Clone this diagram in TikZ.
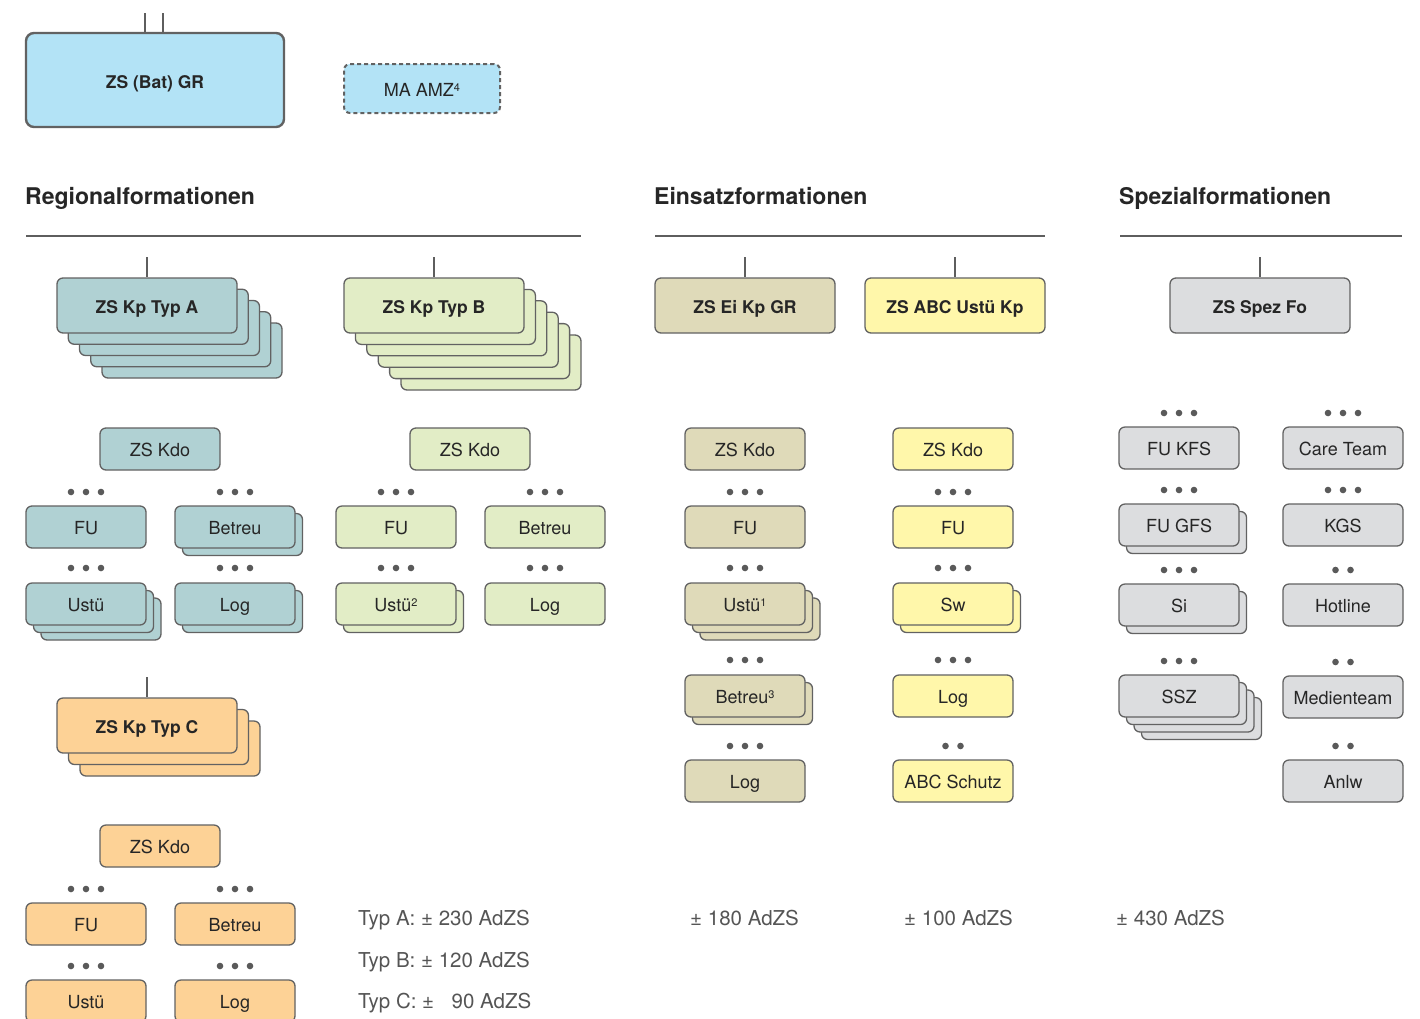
\documentclass[tikz,border=0pt]{standalone}
\usepackage{fontspec}
\setmainfont{TeX Gyre Heros}
\definecolor{bordc}{HTML}{626262}
\definecolor{txtc}{HTML}{262626}
\definecolor{dotc}{HTML}{5A5A5A}
\definecolor{linec}{HTML}{5E5E5E}
\definecolor{sumc}{HTML}{555555}
\definecolor{cTop}{HTML}{B3E3F6}
\definecolor{cA}{HTML}{B0D1D3}
\definecolor{cB}{HTML}{E2EDC6}
\definecolor{cC}{HTML}{FDD296}
\definecolor{cEi}{HTML}{DFDAB9}
\definecolor{cX}{HTML}{FFF7AA}
\definecolor{cS}{HTML}{DCDDDF}
\newcommand\bx[7]{\node[#6, minimum width=#4pt, minimum height=#5pt] (#1) at ({#2+#4/2},{#3+#5/2}) {#7};}
\newcommand\stk[9]{%
  \foreach \i in {#6,...,1}{\node[#8, minimum width=#4pt, minimum height=#5pt] (#1-\i) at ({#2+\i*#7+#4/2},{#3+\i*#7+#5/2}) {};}
  \bx{#1}{#2}{#3}{#4}{#5}{#8}{#9}}
\newcommand\dts[3]{\foreach \k in {1,...,#3}{\fill[dotc] ({#1+(\k-(#3+1)/2)*15},#2) circle (3.3pt);}}
\newcommand\sups[1]{\raisebox{5pt}{\fontsize{11}{12}\selectfont #1}}
\begin{document}
\begin{tikzpicture}[x=1pt,y=-1pt,
  bxbase/.style={draw=bordc, line width=1.3pt, rounded corners=6pt, inner sep=0pt, text=txtc, font=\fontsize{18}{21}\selectfont, text height=15pt, text depth=0pt},
  big/.style={bxbase, font=\bfseries\fontsize{17.5}{20}\selectfont, text height=16.5pt},
  smA/.style={bxbase, fill=cA}, smB/.style={bxbase, fill=cB}, smC/.style={bxbase, fill=cC},
  smEi/.style={bxbase, fill=cEi}, smX/.style={bxbase, fill=cX}, smS/.style={bxbase, fill=cS},
  bigA/.style={big, fill=cA}, bigB/.style={big, fill=cB}, bigC/.style={big, fill=cC},
  bigEi/.style={big, fill=cEi}, bigX/.style={big, fill=cX}, bigS/.style={big, fill=cS},
  topbox/.style={big, fill=cTop, line width=2.4pt, rounded corners=8pt},
  amzbox/.style={bxbase, fill=cTop, line width=2pt, dash pattern=on 4pt off 3pt},
  head/.style={font=\bfseries\fontsize{23}{27}\selectfont, text=txtc, inner sep=0pt},
  conn/.style={draw=linec, line width=1.5pt},
  rule/.style={draw=linec, line width=2.4pt},
  sumt/.style={font=\fontsize{20.5}{24}\selectfont, text=sumc, inner sep=0pt, anchor=base west}
]
\useasboundingbox[fill=white] (0,0) rectangle (1420,1018);

% top
\bx{bat}{26}{33}{258}{94}{topbox}{ZS (Bat) GR}
\coordinate (bt1) at (145,13);
\coordinate (bt2) at (163,13);
\draw[conn] (bt1) -- (bt1 |- bat.north);
\draw[conn] (bt2) -- (bt2 |- bat.north);
\bx{amz}{344}{64}{156}{49}{amzbox}{MA AMZ\sups{4}}

% headings
\node[head, anchor=base west] (h1) at (25,204) {Regionalformationen};
\node[head, anchor=base west] (h2) at (654,204) {Einsatzformationen};
\node[head, anchor=base west] (h3) at (1119,204) {Spezialformationen};
\coordinate (r1a) at (26,236); \coordinate (r1b) at (581,236);
\coordinate (r2a) at (655,236); \coordinate (r2b) at (1045,236);
\coordinate (r3a) at (1120,236); \coordinate (r3b) at (1402,236);
\draw[rule] (r1a) -- (r1b);
\draw[rule] (r2a) -- (r2b);
\draw[rule] (r3a) -- (r3b);

% big boxes
\stk{ka}{57}{278}{180}{55}{4}{11.25}{bigA}{ZS Kp Typ A}
\stk{kb}{344}{278}{180}{55}{5}{11.4}{bigB}{ZS Kp Typ B}
\stk{kc}{57}{698}{180}{55}{2}{11.5}{bigC}{ZS Kp Typ C}
\bx{ei}{655}{278}{180}{55}{bigEi}{ZS Ei Kp GR}
\bx{abc}{865}{278}{180}{55}{bigX}{ZS ABC Ustü Kp}
\bx{spez}{1170}{278}{180}{55}{bigS}{ZS Spez Fo}
\coordinate (ca) at (147,257); \draw[conn] (ca) -- (ka.north);
\coordinate (cb) at (434,257); \draw[conn] (cb) -- (kb.north);
\coordinate (cc) at (147,677); \draw[conn] (cc) -- (kc.north);
\coordinate (ce) at (745,257); \draw[conn] (ce) -- (ei.north);
\coordinate (cx) at (955,257); \draw[conn] (cx) -- (abc.north);
\coordinate (cs) at (1260,257); \draw[conn] (cs) -- (spez.north);

% Typ A
\bx{akdo}{100}{428}{120}{42}{smA}{ZS Kdo}
\dts{86}{492}{3} \dts{235}{492}{3}
\bx{afu}{26}{506}{120}{42}{smA}{FU}
\stk{abet}{175}{506}{120}{42}{1}{7.5}{smA}{Betreu}
\dts{86}{568}{3} \dts{235}{568}{3}
\stk{aus}{26}{583}{120}{42}{2}{7.5}{smA}{Ustü}
\stk{alog}{175}{583}{120}{42}{1}{7.5}{smA}{Log}

% Typ B
\bx{bkdo}{410}{428}{120}{42}{smB}{ZS Kdo}
\dts{396}{492}{3} \dts{545}{492}{3}
\bx{bfu}{336}{506}{120}{42}{smB}{FU}
\bx{bbet}{485}{506}{120}{42}{smB}{Betreu}
\dts{396}{568}{3} \dts{545}{568}{3}
\stk{bus}{336}{583}{120}{42}{1}{7.5}{smB}{Ustü\sups{2}}
\bx{blog}{485}{583}{120}{42}{smB}{Log}

% Typ C
\bx{ckdo}{100}{825}{120}{42}{smC}{ZS Kdo}
\dts{86}{889}{3} \dts{235}{889}{3}
\bx{cfu}{26}{903}{120}{42}{smC}{FU}
\bx{cbet}{175}{903}{120}{42}{smC}{Betreu}
\dts{86}{966}{3} \dts{235}{966}{3}
\bx{cus}{26}{980}{120}{42}{smC}{Ustü}
\bx{clog}{175}{980}{120}{42}{smC}{Log}

% Ei
\bx{ekdo}{685}{428}{120}{42}{smEi}{ZS Kdo}
\dts{745}{492}{3}
\bx{efu}{685}{506}{120}{42}{smEi}{FU}
\dts{745}{568}{3}
\stk{eus}{685}{583}{120}{42}{2}{7.5}{smEi}{Ustü\sups{1}}
\dts{745}{660}{3}
\stk{ebet}{685}{675}{120}{42}{1}{7.5}{smEi}{Betreu\sups{3}}
\dts{745}{746}{3}
\bx{elog}{685}{760}{120}{42}{smEi}{Log}

% ABC
\bx{xkdo}{893}{428}{120}{42}{smX}{ZS Kdo}
\dts{953}{492}{3}
\bx{xfu}{893}{506}{120}{42}{smX}{FU}
\dts{953}{568}{3}
\stk{xsw}{893}{583}{120}{42}{1}{7.5}{smX}{Sw}
\dts{953}{660}{3}
\bx{xlog}{893}{675}{120}{42}{smX}{Log}
\dts{953}{746}{2}
\bx{xabc}{893}{760}{120}{42}{smX}{ABC Schutz}

% Spez
\dts{1179}{413}{3} \dts{1343}{413}{3}
\bx{sfk}{1119}{427}{120}{42}{smS}{FU KFS}
\bx{sct}{1283}{427}{120}{42}{smS}{Care Team}
\dts{1179}{490}{3} \dts{1343}{490}{3}
\stk{sfg}{1119}{504}{120}{42}{1}{7.5}{smS}{FU GFS}
\bx{skgs}{1283}{504}{120}{42}{smS}{KGS}
\dts{1179}{570}{3} \dts{1343}{570}{2}
\stk{ssi}{1119}{584}{120}{42}{1}{7.5}{smS}{Si}
\bx{shot}{1283}{584}{120}{42}{smS}{Hotline}
\dts{1179}{661}{3} \dts{1343}{662}{2}
\stk{sssz}{1119}{675}{120}{42}{3}{7.5}{smS}{SSZ}
\bx{smed}{1283}{676}{120}{42}{smS}{Medienteam}
\dts{1343}{746}{2}
\bx{sanl}{1283}{760}{120}{42}{smS}{Anlw}

% sums
\node[sumt] (ta) at (358,925) {Typ A: ± 230 AdZS};
\node[sumt] (tb) at (358,967) {Typ B: ± 120 AdZS};
\node[sumt] (tc) at (358,1008) {Typ C: ±\hspace{0.85em}90 AdZS};
\node[sumt] (te) at (690,925) {± 180 AdZS};
\node[sumt] (tx) at (904,925) {± 100 AdZS};
\node[sumt] (tsp) at (1116,925) {± 430 AdZS};
\end{tikzpicture}
\end{document}
